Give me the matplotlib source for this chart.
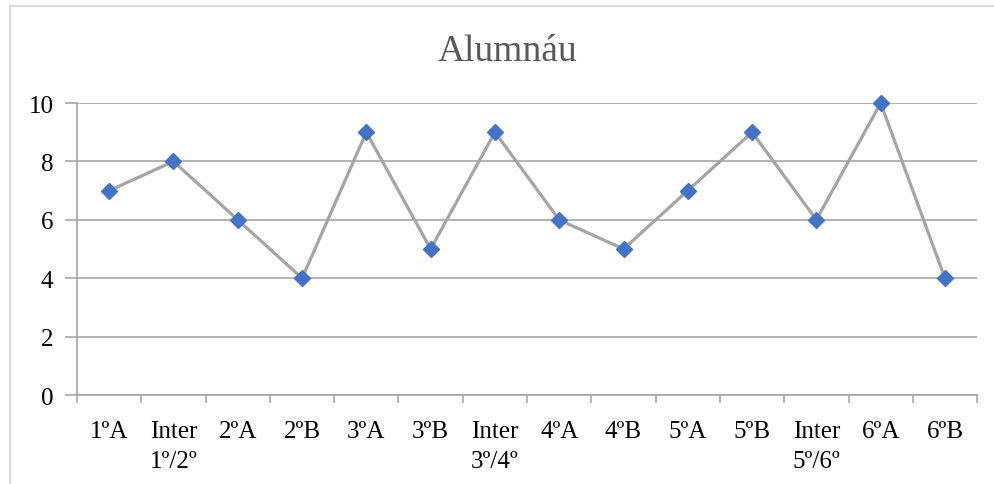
import matplotlib.pyplot as plt
from matplotlib.lines import Line2D

plt.rcParams['font.family'] = ['Liberation Serif', 'DejaVu Serif']

cursos = ['1ºA', 'Inter\n1º/2º', '2ºA', '2ºB', '3ºA', '3ºB', 'Inter\n3º/4º',
          '4ºA', '4ºB', '5ºA', '5ºB', 'Inter\n5º/6º', '6ºA', '6ºB']
alumnos = [7, 8, 6, 4, 9, 5, 9, 6, 5, 7, 9, 6, 10, 4]

fig = plt.figure(figsize=(9.94, 4.85), dpi=100)
ax = fig.add_axes([0.0775, 0.1835, 0.9055, 0.602])

x = list(range(len(cursos)))
ax.plot(x, alumnos, color='#A5A5A5', linewidth=2.3, marker='D',
        markersize=8.5, markerfacecolor='#4472C4', markeredgecolor='#4472C4',
        zorder=3, clip_on=False)

ax.set_xlim(-0.5, len(cursos) - 0.5)
ax.set_ylim(0, 10)
ax.set_yticks([0, 2, 4, 6, 8, 10])
ax.set_xticks(x)
ax.set_xticklabels(cursos, fontsize=18, linespacing=1.45, va='top')
ax.set_xticks([i - 0.5 for i in range(len(cursos) + 1)], minor=True)
ax.tick_params(axis='x', which='major', length=0, pad=18)
ax.tick_params(axis='x', which='minor', length=6, width=1.2, color='#A6A6A6')
ax.tick_params(axis='y', length=9, width=1.2, color='#A6A6A6', labelsize=18, pad=8)

ax.grid(axis='y', color='#A6A6A6', linewidth=1.2)
ax.set_axisbelow(True)
for s in ['top', 'right']:
    ax.spines[s].set_visible(False)
for s in ['left', 'bottom']:
    ax.spines[s].set_color('#A6A6A6')
    ax.spines[s].set_linewidth(1.2)

fig.text(0.511, 0.893, 'Alumnáu', fontsize=27, color='#595959', ha='center', va='center')

# marco exterior del gráfico
fig.add_artist(Line2D([10 / 994, 10 / 994], [0, 1 - 7 / 485], color='#D9D9D9', linewidth=1.5))
fig.add_artist(Line2D([10 / 994, 1], [1 - 7 / 485, 1 - 7 / 485], color='#D9D9D9', linewidth=1.5))

fig.savefig('out.png', dpi=100)
